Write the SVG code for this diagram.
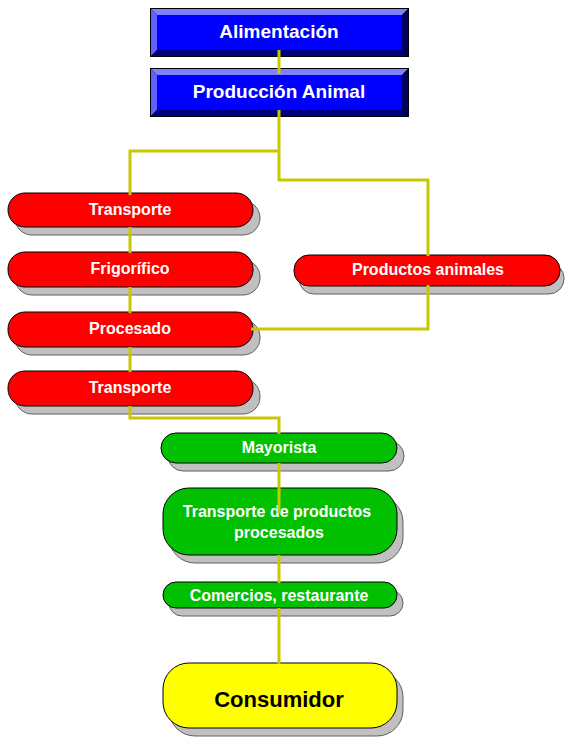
<svg xmlns="http://www.w3.org/2000/svg" width="565" height="744" viewBox="0 0 565 744">
<style>
.t{font-family:"Liberation Sans",Arial,sans-serif;font-weight:bold;fill:#fff;text-anchor:middle}
.sh{fill:#c0c0c0;stroke:#606060;stroke-width:1}
.red{fill:#ff0000;stroke:#000;stroke-width:1}
.grn{fill:#00c000;stroke:#000;stroke-width:1}
.yel{fill:#ffff00;stroke:#000;stroke-width:1}
.bt{fill:#8080ff}.bl{fill:#6060ff}.bb{fill:#000080}.br{fill:#000060}
.face{fill:#0000ff}
.c{fill:none;stroke:#c8c800;stroke-width:3}
</style>
<rect width="565" height="744" fill="#fff"/>
<g id="alimentacion">
<rect x="150" y="8" width="259" height="49" fill="#000"/>
<polygon class="bt" points="151,9 408,9 402,15 157,15"/>
<polygon class="bl" points="151,9 157,15 157,50 151,56"/>
<polygon class="bb" points="151,56 157,50 402,50 408,56"/>
<polygon class="br" points="408,9 402,15 402,50 408,56"/>
<rect class="face" x="157" y="15" width="245" height="35"/>
<text class="t" x="279" y="38" font-size="19">Alimentación</text>
</g>
<g id="produccion">
<rect x="150" y="68" width="259" height="49" fill="#000"/>
<polygon class="bt" points="151,69 408,69 402,75 157,75"/>
<polygon class="bl" points="151,69 157,75 157,110 151,116"/>
<polygon class="bb" points="151,116 157,110 402,110 408,116"/>
<polygon class="br" points="408,69 402,75 402,110 408,116"/>
<rect class="face" x="157" y="75" width="245" height="35"/>
<text class="t" x="279" y="98" font-size="19">Producción Animal</text>
</g>
<g id="transporte1">
<rect class="sh" x="15" y="201" width="245" height="34" rx="17"/>
<rect class="red" x="8" y="193" width="245" height="34" rx="17"/>
<text class="t" x="130" y="215" font-size="16">Transporte</text>
</g>
<g id="frigorifico">
<rect class="sh" x="15" y="260" width="245" height="35" rx="17"/>
<rect class="red" x="8" y="252" width="245" height="35" rx="17"/>
<text class="t" x="130" y="274" font-size="16">Frigorífico</text>
</g>
<g id="productos">
<rect class="sh" x="299" y="263" width="265" height="31" rx="15"/>
<rect class="red" x="294" y="255" width="266" height="31" rx="15"/>
<text class="t" x="428" y="275" font-size="16">Productos animales</text>
</g>
<g id="procesado">
<rect class="sh" x="15" y="320" width="245" height="35" rx="17"/>
<rect class="red" x="8" y="312" width="245" height="35" rx="17"/>
<text class="t" x="130" y="334" font-size="16">Procesado</text>
</g>
<g id="transporte2">
<rect class="sh" x="15" y="379" width="245" height="35" rx="17"/>
<rect class="red" x="8" y="371" width="245" height="35" rx="17"/>
<text class="t" x="130" y="393" font-size="16">Transporte</text>
</g>
<g id="mayorista">
<rect class="sh" x="168" y="441" width="236" height="30" rx="15"/>
<rect class="grn" x="161" y="433" width="236" height="30" rx="15"/>
<text class="t" x="279" y="453" font-size="16">Mayorista</text>
</g>
<g id="transporte-procesados">
<rect class="sh" x="169" y="496" width="234" height="67" rx="26"/>
<rect class="grn" x="163" y="488" width="234" height="67" rx="26"/>
<text class="t" x="277" y="517" font-size="16">Transporte de productos</text>
<text class="t" x="279" y="538" font-size="16">procesados</text>
</g>
<g id="comercios">
<rect class="sh" x="169" y="590" width="234" height="26" rx="13"/>
<rect class="grn" x="163" y="582" width="234" height="26" rx="13"/>
<text class="t" x="279" y="601" font-size="16">Comercios, restaurante</text>
</g>
<g id="consumidor">
<rect class="sh" x="169" y="671" width="234" height="65" rx="26"/>
<rect class="yel" x="163" y="663" width="234" height="65" rx="26"/>
<text class="t" x="279" y="707" font-size="22" fill="#000" style="fill:#000">Consumidor</text>
</g>
<g id="connectors">
<path class="c" d="M279,50 V74"/>
<path class="c" d="M279,110 V180 H428 V256"/>
<path class="c" d="M279,151 H130 V195"/>
<path class="c" d="M130,227 V253"/>
<path class="c" d="M130,287 V313"/>
<path class="c" d="M130,347 V372"/>
<path class="c" d="M428,285 V329 H251"/>
<path class="c" d="M130,406 V418 H279 V434"/>
<path class="c" d="M279,463 V513"/>
<path class="c" d="M279,555 V583"/>
<path class="c" d="M279,608 V664"/>
</g>
</svg>
